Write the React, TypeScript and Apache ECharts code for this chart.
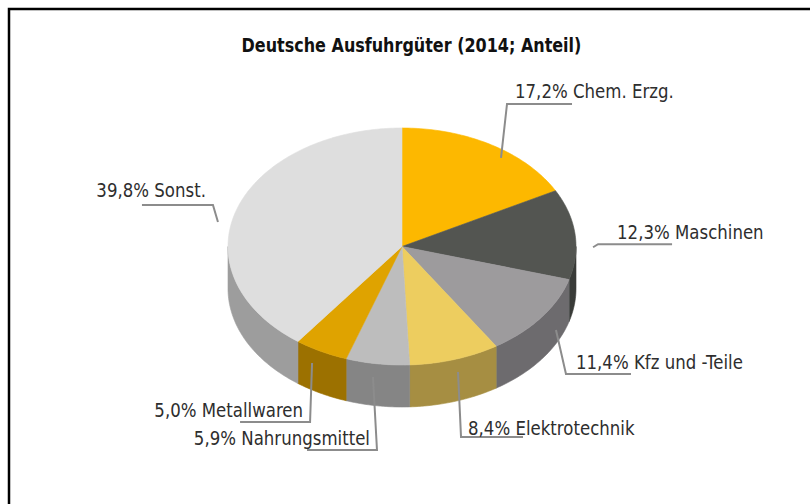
import React, { useEffect, useRef } from "react";
import * as echarts from "echarts";

const TITLE = "Deutsche Ausfuhrgüter (2014; Anteil)";
const CATEGORIES = ["Chem. Erzg.", "Maschinen", "Kfz und -Teile", "Elektrotechnik", "Nahrungsmittel", "Metallwaren", "Sonst."];
const SHARES = [17.2, 12.3, 11.4, 8.4, 5.9, 5.0, 39.8];

const TOP_COLORS = ["#FDB800", "#535551", "#9D9B9D", "#EDCD5F", "#BDBDBD", "#DFA300", "#DEDEDE"];
const SIDE_COLORS = ["#B08000", "#393B38", "#6D6B6E", "#A68E42", "#858585", "#9C7100", "#9D9D9D"];

// label layout offsets relative to the rim point at each slice's mid angle
// [startDx, startDy, elbowDx, elbowDy, endDx, textDx, textDy, align]
const LABEL_LAYOUT: [number, number, number, number, number, number, number, string][] = [
  [9.5, 13, 15.5, -41, 80.5, 23.5, -54, "left"],
  [18, 13, 23, 10, 97, 42, -2, "left"],
  [14.5, 12.7, 24.5, 56.7, 89.5, 34.5, 44.7, "left"],
  [3.3, 12.6, 6.3, 77.6, 68.3, 13.3, 68.6, "left"],
  [-4.5, 13.2, -0.5, 86.2, -70.5, -7.5, 74.2, "right"],
  [-9, 11.6, -11, 70.6, -81, -18, 58.6, "right"],
  [-18.9, 12.8, -23.9, -4.2, -94.9, -30.9, -19.2, "right"],
];

const W = 810;
const H = 504;
const CX = 402;
const CY = 246.5;
const RX = 174;
const RY = 118.5;
const DEPTH = 42;

export default function App() {
  const ref = useRef<HTMLDivElement>(null);

  useEffect(() => {
    document.body.style.margin = "0";
    if (!ref.current) return;
    const chart = echarts.init(ref.current, null, { renderer: "svg" });

    const total = SHARES.reduce((a, b) => a + b, 0);
    const cum: number[] = [];
    let acc = 0;
    SHARES.forEach((v) => {
      cum.push(acc);
      acc += v;
    });

    const pt = (deg: number, dz = 0): number[] => {
      const r = (deg * Math.PI) / 180;
      return [CX + RX * Math.sin(r), CY - RY * Math.cos(r) + dz];
    };
    const arc = (a: number, b: number, dz = 0): number[][] => {
      const pts: number[][] = [];
      const n = Math.max(2, Math.ceil(Math.abs(b - a)));
      for (let k = 0; k <= n; k++) pts.push(pt(a + ((b - a) * k) / n, dz));
      return pts;
    };

    const renderItem = (params: any, api: any) => {
      const i = params.dataIndex;
      const v = api.value(0);
      const a1 = (cum[i] / total) * 360;
      const a2 = ((cum[i] + v) / total) * 360;
      const children: any[] = [];

      const s = Math.max(a1, 90);
      const e = Math.min(a2, 270);
      if (e > s) {
        const side = arc(s, e).concat(arc(e, s, DEPTH));
        children.push({
          type: "polygon",
          z2: 1,
          shape: { points: side },
          style: { fill: SIDE_COLORS[i], stroke: SIDE_COLORS[i], lineWidth: 0.6 },
        });
      }

      const top = [[CX, CY]].concat(arc(a1, a2));
      children.push({
        type: "polygon",
        z2: 2,
        shape: { points: top },
        style: { fill: TOP_COLORS[i], stroke: TOP_COLORS[i], lineWidth: 0.6 },
      });

      const mid = (a1 + a2) / 2;
      const [ax, ay] = pt(mid);
      const L = LABEL_LAYOUT[i];
      const p0 = [ax + L[0], ay + L[1]];
      const p1 = [ax + L[2], ay + L[3]];
      const p2 = [ax + L[4], ay + L[3]];
      children.push({
        type: "polyline",
        z2: 3,
        shape: { points: [p0, p1, p2] },
        style: { stroke: "#8C8C8C", lineWidth: 2, fill: null },
      });
      const label = `${v.toFixed(1).replace(".", ",")}% ${CATEGORIES[i]}`;
      children.push({
        type: "text",
        z2: 4,
        x: ax + L[5],
        y: ay + L[6],
        scaleY: 1.15,
        style: {
          text: label,
          x: 0,
          y: 0,
          fill: "#2E2E2E",
          fontFamily: "DejaVu Sans",
          fontSize: 16.6,
          align: L[7],
          verticalAlign: "middle",
        },
      });

      return { type: "group", children };
    };

    chart.setOption({
      animation: false,
      backgroundColor: "#ffffff",
      graphic: [
        {
          type: "rect",
          shape: { x: 9, y: 9, width: 1200, height: 1200 },
          style: { fill: null, stroke: "#000000", lineWidth: 2.5 },
          silent: true,
        },
        {
          type: "text",
          x: 411.5,
          y: 45.5,
          scaleY: 1.2,
          style: {
            text: TITLE,
            x: 0,
            y: 0,
            fill: "#111111",
            fontFamily: "DejaVu Sans",
            fontWeight: "bold",
            fontSize: 16,
            align: "center",
            verticalAlign: "middle",
          },
        },
      ],
      series: [
        {
          type: "custom",
          coordinateSystem: "none",
          renderItem,
          data: SHARES.map((v, i) => ({ value: [v], name: CATEGORIES[i] })),
          silent: true,
        },
      ],
    });

    return () => chart.dispose();
  }, []);

  return <div ref={ref} style={{ width: W, height: H }} />;
}
